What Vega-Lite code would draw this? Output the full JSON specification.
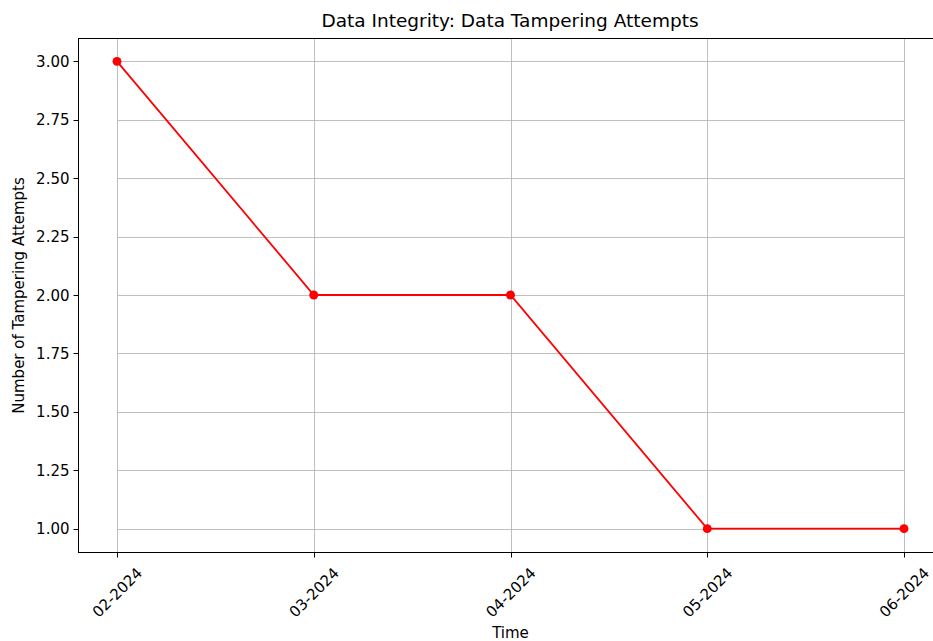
{
  "$schema": "https://vega.github.io/schema/vega-lite/v6.json",
  "width": 855,
  "height": 514,
  "autosize": {"type": "none"},
  "padding": {"left": 78, "top": 38, "right": 0, "bottom": 89},
  "background": "white",
  "title": {
    "text": "Data Integrity: Data Tampering Attempts",
    "font": "DejaVu Sans",
    "fontSize": 18.5,
    "fontWeight": "normal",
    "color": "#000",
    "offset": 8,
    "anchor": "middle",
    "dx": 4.5
  },
  "data": {
    "values": [
      {"month": "02-2024", "attempts": 3},
      {"month": "03-2024", "attempts": 2},
      {"month": "04-2024", "attempts": 2},
      {"month": "05-2024", "attempts": 1},
      {"month": "06-2024", "attempts": 1}
    ]
  },
  "encoding": {
    "x": {
      "field": "month",
      "type": "ordinal",
      "sort": null,
      "scale": {"type": "point", "range": [39, 826], "padding": 0},
      "axis": {
        "title": "Time",
        "domain": false,
        "labelAngle": -45,
        "labelAlign": "center",
        "labelBaseline": "middle",
        "labelPadding": 35,
        "titlePadding": 6,
        "titleX": 432,
        "grid": true
      }
    },
    "y": {
      "field": "attempts",
      "type": "quantitative",
      "scale": {"domain": [0.9, 3.1], "nice": false, "zero": false},
      "axis": {
        "title": "Number of Tampering Attempts",
        "values": [1, 1.25, 1.5, 1.75, 2, 2.25, 2.5, 2.75, 3],
        "format": ".2f",
        "grid": true,
        "titlePadding": 9
      }
    }
  },
  "layer": [
    {"mark": {"type": "rule", "color": "#000", "strokeWidth": 1, "yOffset": 0.5}, "encoding": {"y": {"datum": 3.1}, "x": {"value": 0}, "x2": {"value": 855}}},
    {"mark": {"type": "rule", "color": "#000", "strokeWidth": 1, "yOffset": 0.5}, "encoding": {"y": {"datum": 0.9}, "x": {"value": 0}, "x2": {"value": 855}}},
    {"mark": {"type": "line", "color": "#ff0000", "strokeWidth": 1.8}},
    {"mark": {"type": "point", "filled": true, "color": "#ff0000", "size": 80, "opacity": 1}}
  ],
  "config": {
    "view": {"stroke": null},
    "axis": {
      "labelFont": "DejaVu Sans",
      "labelFontSize": 15,
      "labelColor": "#000",
      "titleFont": "DejaVu Sans",
      "titleFontSize": 15,
      "titleFontWeight": "normal",
      "titleColor": "#000",
      "domainColor": "#000",
      "domainWidth": 1,
      "tickColor": "#000",
      "tickSize": 5,
      "tickWidth": 1,
      "gridColor": "#b0b0b0",
      "gridWidth": 0.8,
      "labelPadding": 4
    }
  }
}
